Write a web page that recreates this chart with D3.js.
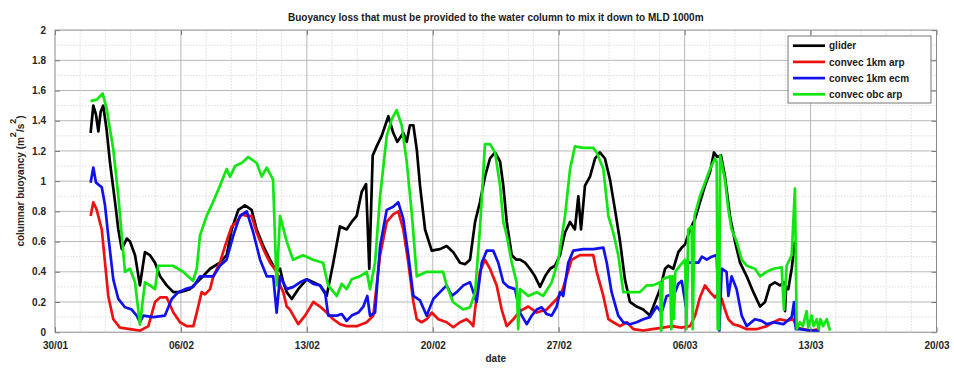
<!DOCTYPE html>
<html><head><meta charset="utf-8">
<script src="https://cdn.jsdelivr.net/npm/d3@7"></script>
<style>
html,body{margin:0;padding:0;background:#fff;}
svg text{font-family:"Liberation Sans",Arial,Helvetica,sans-serif;}
</style></head>
<body><svg id="chart" width="954" height="369"></svg>
<script>
// ---------- data (days since 30/01) ----------
const titleText = "Buoyancy loss that must be provided to the water column to mix it down to MLD 1000m";
const tickDays = [0, 7, 14, 21, 28, 35, 42, 49];
const tickLabels = ["30/01", "06/02", "13/02", "20/02", "27/02", "06/03", "13/03", "20/03"];
const yTicks = [0, 0.2, 0.4, 0.6, 0.8, 1, 1.2, 1.4, 1.6, 1.8, 2];
const seriesNames = ["glider", "convec 1km arp", "convec 1km ecm", "convec obc arp"];

const gliderDays = [1.98,2.13,2.28,2.41,2.54,2.68,2.87,3.06,3.34,3.52,3.71,3.99,4.17,4.45,4.72,5.00,5.28,5.56,5.84,6.21,6.58,6.95,7.50,8.06,8.62,9.17,9.54,9.82,10.19,10.56,10.93,11.21,11.58,11.95,12.32,12.51,12.69,12.88,13.16,13.52,13.99,14.36,14.73,15.10,15.47,15.84,16.21,16.49,16.77,17.05,17.29,17.47,17.66,17.88,18.16,18.53,18.80,19.03,19.36,19.55,19.73,19.92,20.11,20.29,20.57,20.94,21.40,21.77,22.14,22.51,22.79,23.07,23.35,23.62,23.90,24.18,24.46,24.74,24.92,25.11,25.39,25.66,25.85,26.13,26.40,26.68,26.96,27.24,27.52,27.79,28.07,28.35,28.63,28.90,29.09,29.24,29.46,29.74,30.02,30.29,30.57,30.85,31.13,31.41,31.68,31.96,32.33,32.70,33.07,33.26,33.63,33.91,34.09,34.37,34.65,34.84,35.02,35.30,35.58,35.85,36.13,36.41,36.63,36.82,37.02,37.24,37.52,37.80,38.08,38.45,38.82,39.19,39.47,39.74,40.02,40.30,40.52,40.58,40.64,40.76,40.95,41.13];
const gliderVals = [1.32,1.50,1.44,1.33,1.46,1.50,1.34,1.12,0.86,0.68,0.55,0.62,0.60,0.51,0.31,0.53,0.51,0.46,0.37,0.31,0.265,0.265,0.285,0.35,0.42,0.46,0.51,0.68,0.81,0.84,0.81,0.68,0.57,0.48,0.40,0.42,0.33,0.265,0.22,0.285,0.35,0.33,0.31,0.24,0.46,0.70,0.68,0.73,0.77,0.93,0.98,0.42,1.17,1.23,1.30,1.43,1.32,1.26,1.32,1.26,1.37,1.37,1.21,0.97,0.68,0.54,0.55,0.57,0.53,0.46,0.45,0.48,0.73,0.86,1.03,1.15,1.19,1.13,0.97,0.73,0.51,0.48,0.48,0.46,0.42,0.37,0.30,0.37,0.42,0.44,0.51,0.66,0.73,0.68,0.90,0.68,0.97,1.03,1.15,1.19,1.15,1.01,0.81,0.60,0.35,0.20,0.17,0.15,0.11,0.17,0.285,0.42,0.44,0.42,0.53,0.56,0.58,0.68,0.75,0.86,0.97,1.06,1.19,1.16,1.17,1.03,0.77,0.60,0.46,0.37,0.265,0.17,0.20,0.31,0.33,0.31,0.33,0.14,0.30,0.285,0.42,0.60];

const arpDays = [1.98,2.13,2.32,2.60,2.78,2.96,3.24,3.61,4.17,4.72,5.19,5.56,5.84,6.21,6.58,6.95,7.32,7.69,7.88,8.15,8.34,8.62,8.80,9.17,9.45,9.82,10.10,10.38,10.66,10.93,11.21,11.58,11.95,12.32,12.51,12.69,12.88,13.06,13.52,13.90,14.36,14.73,15.10,15.47,15.84,16.21,16.77,17.33,17.69,18.07,18.44,18.80,19.08,19.36,19.64,19.92,20.11,20.38,20.66,20.94,21.31,21.77,22.14,22.51,22.88,23.07,23.25,23.35,23.62,23.90,24.18,24.55,24.83,25.11,25.48,25.85,26.31,26.78,27.33,27.89,28.17,28.44,28.72,29.18,29.92,30.11,30.48,30.76,31.03,31.41,31.78,32.15,32.70,33.20,33.80,34.30,34.80,35.30,35.58,35.85,36.13,36.41,36.69,36.87,37.06,37.24,37.43,37.70,38.08,38.45,39.00,39.56,39.93,40.30,40.67,41.04,41.23,41.60,42.00,42.50];
const arpVals = [0.77,0.86,0.81,0.68,0.46,0.24,0.086,0.03,0.02,0.01,0.04,0.20,0.23,0.23,0.13,0.066,0.04,0.04,0.13,0.265,0.25,0.285,0.37,0.46,0.57,0.70,0.73,0.78,0.77,0.77,0.66,0.55,0.46,0.40,0.31,0.265,0.17,0.15,0.053,0.11,0.20,0.17,0.13,0.086,0.053,0.04,0.04,0.066,0.11,0.51,0.73,0.78,0.80,0.68,0.46,0.20,0.086,0.066,0.086,0.13,0.086,0.066,0.033,0.066,0.086,0.066,0.04,0.15,0.40,0.48,0.42,0.31,0.15,0.04,0.086,0.14,0.17,0.13,0.15,0.22,0.265,0.37,0.48,0.51,0.51,0.40,0.24,0.086,0.066,0.04,0.066,0.02,0.01,0.02,0.03,0.04,0.03,0.04,0.11,0.23,0.31,0.265,0.23,0.26,0.22,0.15,0.086,0.053,0.04,0.02,0.02,0.04,0.066,0.086,0.075,0.086,0.03,0.02,0.01,0.02];

const ecmDays = [1.98,2.13,2.28,2.60,2.78,2.96,3.24,3.52,3.89,4.26,4.54,4.72,4.91,5.46,6.11,6.49,6.85,7.23,7.69,8.06,8.43,8.80,9.17,9.54,9.91,10.28,10.66,11.02,11.40,11.77,12.13,12.32,12.51,12.88,13.25,13.62,13.99,14.36,14.73,15.01,15.19,15.66,15.94,16.21,16.49,16.86,17.14,17.36,17.51,17.79,18.07,18.44,18.80,19.08,19.36,19.64,19.92,20.29,20.66,21.03,21.40,21.77,22.05,22.33,22.70,23.07,23.44,23.72,24.00,24.36,24.64,24.92,25.20,25.57,25.85,26.22,26.50,26.78,27.05,27.33,27.61,27.89,28.07,28.25,28.53,28.81,29.37,29.92,30.48,30.67,30.94,31.31,31.59,31.96,32.33,32.70,33.07,33.45,33.72,34.00,34.30,34.35,34.42,34.65,34.84,35.07,35.18,35.48,35.76,35.96,36.23,36.50,36.78,36.93,37.06,37.33,37.43,37.61,37.89,38.17,38.45,38.91,39.28,39.56,39.93,40.49,40.95,41.08,41.18,41.40,42.00,42.50];
const ecmVals = [0.99,1.09,0.99,0.96,0.84,0.64,0.35,0.22,0.165,0.15,0.11,0.066,0.11,0.10,0.11,0.22,0.265,0.285,0.30,0.37,0.37,0.37,0.44,0.48,0.64,0.77,0.80,0.66,0.48,0.37,0.37,0.13,0.37,0.285,0.30,0.33,0.35,0.32,0.31,0.265,0.11,0.11,0.12,0.075,0.11,0.13,0.17,0.24,0.11,0.13,0.57,0.81,0.83,0.86,0.75,0.51,0.24,0.21,0.11,0.22,0.265,0.31,0.24,0.265,0.31,0.33,0.20,0.46,0.54,0.54,0.46,0.33,0.30,0.285,0.13,0.053,0.11,0.15,0.165,0.12,0.11,0.17,0.265,0.24,0.46,0.54,0.55,0.55,0.56,0.46,0.265,0.11,0.066,0.053,0.066,0.086,0.10,0.17,0.13,0.24,0.25,0.09,0.25,0.32,0.34,0.17,0.46,0.46,0.46,0.50,0.48,0.50,0.51,0.01,0.42,0.40,0.24,0.37,0.285,0.11,0.04,0.086,0.075,0.053,0.066,0.053,0.10,0.20,0.02,0.02,0.01,0.01];

const obcDays = [1.98,2.32,2.65,2.87,3.24,3.52,3.71,3.89,4.17,4.45,4.72,5.00,5.28,5.56,5.73,6.56,7.12,7.67,7.88,8.06,8.43,8.78,9.17,9.54,9.73,10.01,10.38,10.74,11.21,11.49,11.77,12.12,12.32,12.51,12.88,13.23,13.79,14.34,14.90,15.18,15.66,15.94,16.21,16.49,16.95,17.33,17.51,17.79,18.07,18.44,18.72,18.99,19.27,19.55,19.83,20.11,20.66,21.57,21.77,22.12,22.68,23.07,23.35,23.62,23.90,24.18,24.46,24.74,24.92,25.11,25.39,25.66,25.75,25.85,26.31,26.78,27.13,27.61,27.98,28.35,28.63,28.90,29.37,29.92,30.11,30.48,30.76,31.03,31.31,31.59,31.96,32.52,32.89,33.24,33.63,33.70,33.78,34.19,34.26,34.33,34.40,34.48,34.74,35.02,35.10,35.20,35.39,35.45,35.55,35.85,36.13,36.41,36.69,36.78,36.84,36.92,36.97,37.24,37.43,37.61,37.89,38.17,38.45,38.91,39.19,39.56,39.93,40.39,40.52,40.67,40.95,41.13,41.23,41.41,41.57,41.78,41.87,42.06,42.17,42.34,42.45,42.55,42.70,42.90,43.08];
const obcVals = [1.53,1.54,1.58,1.48,1.21,0.90,0.64,0.40,0.42,0.33,0.05,0.33,0.31,0.285,0.44,0.44,0.40,0.34,0.42,0.64,0.77,0.86,0.97,1.08,1.03,1.10,1.12,1.16,1.12,1.03,1.09,1.01,0.31,0.77,0.60,0.48,0.51,0.48,0.46,0.31,0.24,0.32,0.285,0.35,0.37,0.40,0.285,0.46,0.90,1.30,1.41,1.47,1.37,1.13,0.79,0.37,0.40,0.40,0.31,0.20,0.15,0.165,0.26,0.68,1.245,1.245,1.19,0.97,0.73,0.64,0.46,0.33,0.02,0.285,0.24,0.265,0.24,0.33,0.48,0.77,1.08,1.23,1.22,1.22,1.19,1.08,0.77,0.66,0.51,0.265,0.265,0.265,0.31,0.31,0.33,0.01,0.35,0.37,0.02,0.37,0.09,0.40,0.44,0.48,0.02,0.68,0.70,0.02,0.77,0.90,0.99,1.08,1.15,1.13,0.02,0.02,1.17,1.01,0.81,0.68,0.60,0.48,0.44,0.42,0.37,0.40,0.42,0.43,0.15,0.44,0.51,0.95,0.02,0.066,0.04,0.14,0.03,0.11,0.04,0.086,0.02,0.086,0.04,0.086,0.01];

const seriesColors = ["#000000", "#ee1111", "#1111ee", "#11e611"];

// ---------- layout ----------
const base = Date.UTC(2019, 0, 30);
const toDate = d => new Date(base + d * 864e5);
const L = 55, R = 936.5, T = 30.1, B = 332.2;

const svg = d3.select("#chart");
const x = d3.scaleUtc().domain([toDate(0), toDate(49)]).range([L, R]);
const y = d3.scaleLinear().domain([0, 2]).range([B, T]);

// minor grid
const minorX = d3.range(0, 49.01, 1.4).filter(d => Math.abs(d / 7 - Math.round(d / 7)) > 1e-6);
svg.append("g").selectAll("line").data(minorX).join("line")
  .attr("x1", d => x(toDate(d))).attr("x2", d => x(toDate(d)))
  .attr("y1", T).attr("y2", B)
  .attr("stroke", "#dedede").attr("stroke-width", 1).attr("stroke-dasharray", "1.5,1.5");
const minorY = d3.range(0.1, 2, 0.2);
svg.append("g").selectAll("line").data(minorY).join("line")
  .attr("x1", L).attr("x2", R)
  .attr("y1", d => y(d)).attr("y2", d => y(d))
  .attr("stroke", "#dedede").attr("stroke-width", 1).attr("stroke-dasharray", "1.5,1.5");
// major grid
svg.append("g").selectAll("line").data(tickDays.slice(1, -1)).join("line")
  .attr("x1", d => x(toDate(d))).attr("x2", d => x(toDate(d)))
  .attr("y1", T).attr("y2", B)
  .attr("stroke", "#b8b8b8").attr("stroke-width", 1);
svg.append("g").selectAll("line").data(yTicks.slice(1, -1)).join("line")
  .attr("x1", L).attr("x2", R)
  .attr("y1", d => y(d)).attr("y2", d => y(d))
  .attr("stroke", "#b8b8b8").attr("stroke-width", 1);

// series
const line = d3.line().x(d => x(toDate(d[0]))).y(d => y(d[1]));
const series = [
  [gliderDays, gliderVals],
  [arpDays, arpVals],
  [ecmDays, ecmVals],
  [obcDays, obcVals]
];
const clip = svg.append("clipPath").attr("id", "clip").append("rect")
  .attr("x", L).attr("y", T).attr("width", R - L).attr("height", B - T);
series.forEach(([days, vals], i) => {
  const pts = days.map((d, k) => [d, vals[k]]);
  svg.append("path").datum(pts)
    .attr("d", line).attr("fill", "none")
    .attr("stroke", seriesColors[i]).attr("stroke-width", 2.7)
    .attr("stroke-linejoin", "round")
    .attr("clip-path", "url(#clip)");
});

// axes
const fmtX = (d, i) => tickLabels[i];
const xDates = tickDays.map(toDate);
const axFont = g => g.selectAll("text").attr("font-size", 10).attr("font-weight", "bold")
  .attr("fill", "#262626").attr("font-family", '"Liberation Sans",Arial,sans-serif');
const axStyle = g => { g.select(".domain").remove(); g.selectAll(".tick line").attr("stroke", "#777"); };

svg.append("g").attr("transform", `translate(0,${B})`)
  .call(d3.axisBottom(x).tickValues(xDates).tickFormat(fmtX).tickSizeInner(-5).tickSizeOuter(0).tickPadding(10))
  .call(axStyle).call(axFont);
svg.append("g").attr("transform", `translate(0,${T})`)
  .call(d3.axisTop(x).tickValues(xDates).tickFormat("").tickSizeInner(-5).tickSizeOuter(0))
  .call(axStyle);
svg.append("g").attr("transform", `translate(${L},0)`)
  .call(d3.axisLeft(y).tickValues(yTicks).tickFormat(d3.format("~g")).tickSizeInner(-5).tickSizeOuter(0).tickPadding(9))
  .call(axStyle).call(axFont);
svg.append("g").attr("transform", `translate(${R},0)`)
  .call(d3.axisRight(y).tickValues(yTicks).tickFormat("").tickSizeInner(-5).tickSizeOuter(0))
  .call(axStyle);

// box
svg.append("rect").attr("x", L).attr("y", T).attr("width", R - L).attr("height", B - T)
  .attr("fill", "none").attr("stroke", "#8a8a8a").attr("stroke-width", 1);

// title & labels
svg.append("text").attr("x", (L + R) / 2).attr("y", 21).attr("text-anchor", "middle")
  .attr("font-size", 10).attr("font-weight", "bold").attr("fill", "#1a1a1a").text(titleText);
svg.append("text").attr("x", (L + R) / 2).attr("y", 362).attr("text-anchor", "middle")
  .attr("font-size", 10).attr("font-weight", "bold").attr("fill", "#262626").text("date");

const yl = svg.append("text").attr("transform", "translate(24,181) rotate(-90)")
  .attr("text-anchor", "middle").attr("font-size", 10).attr("font-weight", "bold").attr("fill", "#262626");
yl.append("tspan").text("columnar buoyancy (m");
yl.append("tspan").attr("dy", -8).attr("font-size", 9).text("2");
yl.append("tspan").attr("dy", 8).text("/s");
yl.append("tspan").attr("dy", -8).attr("font-size", 9).text("2");
yl.append("tspan").attr("dy", 8).text(")");

// legend
const lg = svg.append("g");
lg.append("rect").attr("x", 788).attr("y", 36).attr("width", 143).attr("height", 67)
  .attr("fill", "#fff").attr("stroke", "#777").attr("stroke-width", 1);
seriesNames.forEach((name, i) => {
  const yy = 45.7 + i * 16.2;
  lg.append("line").attr("x1", 793).attr("x2", 825).attr("y1", yy).attr("y2", yy)
    .attr("stroke", seriesColors[i]).attr("stroke-width", 2.7);
  lg.append("text").attr("x", 829).attr("y", yy + 3.6).attr("font-size", 10).attr("font-weight", "bold")
    .attr("fill", "#1a1a1a").text(name);
});
</script></body></html>
